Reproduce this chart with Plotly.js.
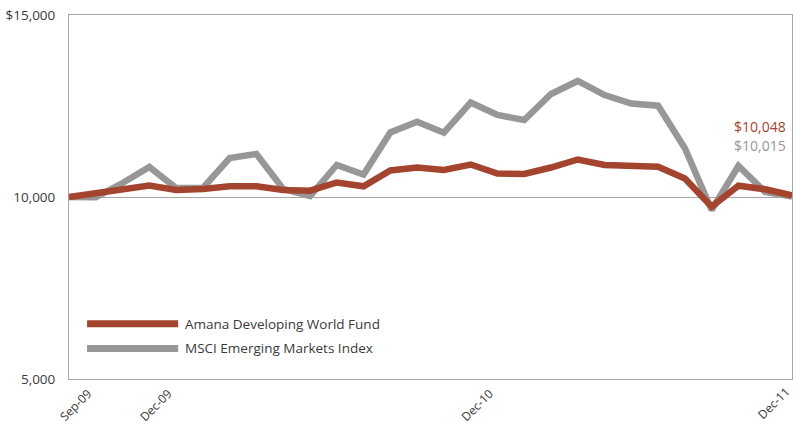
<!DOCTYPE html>
<html>
<head>
<meta charset="utf-8">
<script src="https://cdn.plot.ly/plotly-3.0.1.min.js"></script>
<style>html,body{margin:0;padding:0;background:#fff;}#chart{width:793px;height:425px;}</style>
</head>
<body>
<div id="chart"></div>
<script>
const months = ['Sep-09','Oct-09','Nov-09','Dec-09','Jan-10','Feb-10','Mar-10','Apr-10','May-10','Jun-10','Jul-10','Aug-10','Sep-10','Oct-10','Nov-10','Dec-10','Jan-11','Feb-11','Mar-11','Apr-11','May-11','Jun-11','Jul-11','Aug-11','Sep-11','Oct-11','Nov-11','Dec-11'];
const amana = [10000,10118,10220,10316,10192,10220,10294,10294,10192,10173,10398,10294,10728,10810,10742,10893,10646,10632,10810,11030,10879,10852,10832,10508,9734,10310,10212,10048];
const msci = [10000,9990,10385,10824,10247,10247,11071,11181,10220,10027,10879,10618,11772,12068,11766,12596,12253,12115,12829,13187,12802,12568,12508,11338,9643,10852,10137,10015];
const xTickVals = ['Sep-09','Dec-09','Dec-10','Dec-11'];
const yTickVals = [5000,10000,15000];
const yTickText = ['5,000','10,000','$15,000'];
const seriesNames = ['Amana Developing World Fund','MSCI Emerging Markets Index'];
const endLabels = ['$10,048','$10,015'];

const RED = '#a5442e', GRAY = '#979797', AX = '#a7a7a7', TXT = '#3a3a3a';
const FONT = 'Open Sans, sans-serif';

const traces = [
  {x: months, y: msci, type: 'scatter', mode: 'lines', name: seriesNames[1], line: {color: GRAY, width: 6.5, shape: 'linear'}, hoverinfo: 'skip'},
  {x: months, y: amana, type: 'scatter', mode: 'lines', name: seriesNames[0], line: {color: RED, width: 6.5, shape: 'linear'}, hoverinfo: 'skip'}
];

const innerTicks = xTickVals.slice(0, 3);
const lastTick = xTickVals[3];

const layout = {
  width: 793, height: 425,
  margin: {l: 69, r: 1, t: 15, b: 46},
  paper_bgcolor: '#fff', plot_bgcolor: '#fff',
  showlegend: false,
  font: {family: FONT, size: 13, color: TXT},
  xaxis: {
    type: 'category', range: [0, 27],
    tickmode: 'array', tickvals: innerTicks, ticktext: innerTicks,
    tickangle: -45, ticks: '', showgrid: false, zeroline: false,
    showline: true, linecolor: AX, linewidth: 1, mirror: true,
    tickfont: {family: FONT, size: 12, color: TXT},
    ticklabelshift: 19, ticklabelstandoff: 2
  },
  yaxis: {
    range: [5000, 15000],
    tickmode: 'array', tickvals: yTickVals, ticktext: yTickText,
    ticks: '', showgrid: true, gridcolor: AX, gridwidth: 1, zeroline: false,
    showline: true, linecolor: AX, linewidth: 1, mirror: true,
    tickfont: {family: FONT, size: 13.5, color: TXT},
    ticklabelstandoff: 10
  },
  shapes: [
    {type: 'line', xref: 'paper', yref: 'paper', x0: 0.025, x1: 0.151, y0: 0.152, y1: 0.152, line: {color: RED, width: 7}},
    {type: 'line', xref: 'paper', yref: 'paper', x0: 0.025, x1: 0.151, y0: 0.084, y1: 0.084, line: {color: GRAY, width: 7}}
  ],
  annotations: [
    {xref: 'paper', yref: 'paper', x: 0.158, y: 0.152, xanchor: 'left', yanchor: 'middle', text: seriesNames[0], showarrow: false, font: {family: FONT, size: 13.5, color: TXT}},
    {xref: 'paper', yref: 'paper', x: 0.158, y: 0.084, xanchor: 'left', yanchor: 'middle', text: seriesNames[1], showarrow: false, font: {family: FONT, size: 13.5, color: TXT}},
    {xref: 'paper', yref: 'paper', x: 0.9945, y: 0.694, xanchor: 'right', yanchor: 'middle', text: endLabels[0], showarrow: false, font: {family: FONT, size: 14, color: RED}},
    {xref: 'paper', yref: 'paper', x: 0.9945, y: 0.641, xanchor: 'right', yanchor: 'middle', text: endLabels[1], showarrow: false, font: {family: FONT, size: 14, color: GRAY}},
    {xref: 'paper', yref: 'paper', x: 1, y: 0, xanchor: 'center', yanchor: 'middle', xshift: -19, yshift: -24, textangle: -45, text: lastTick, showarrow: false, font: {family: FONT, size: 12, color: TXT}}
  ]
};

Plotly.newPlot('chart', traces, layout, {staticPlot: true, displayModeBar: false});
</script>
</body>
</html>
